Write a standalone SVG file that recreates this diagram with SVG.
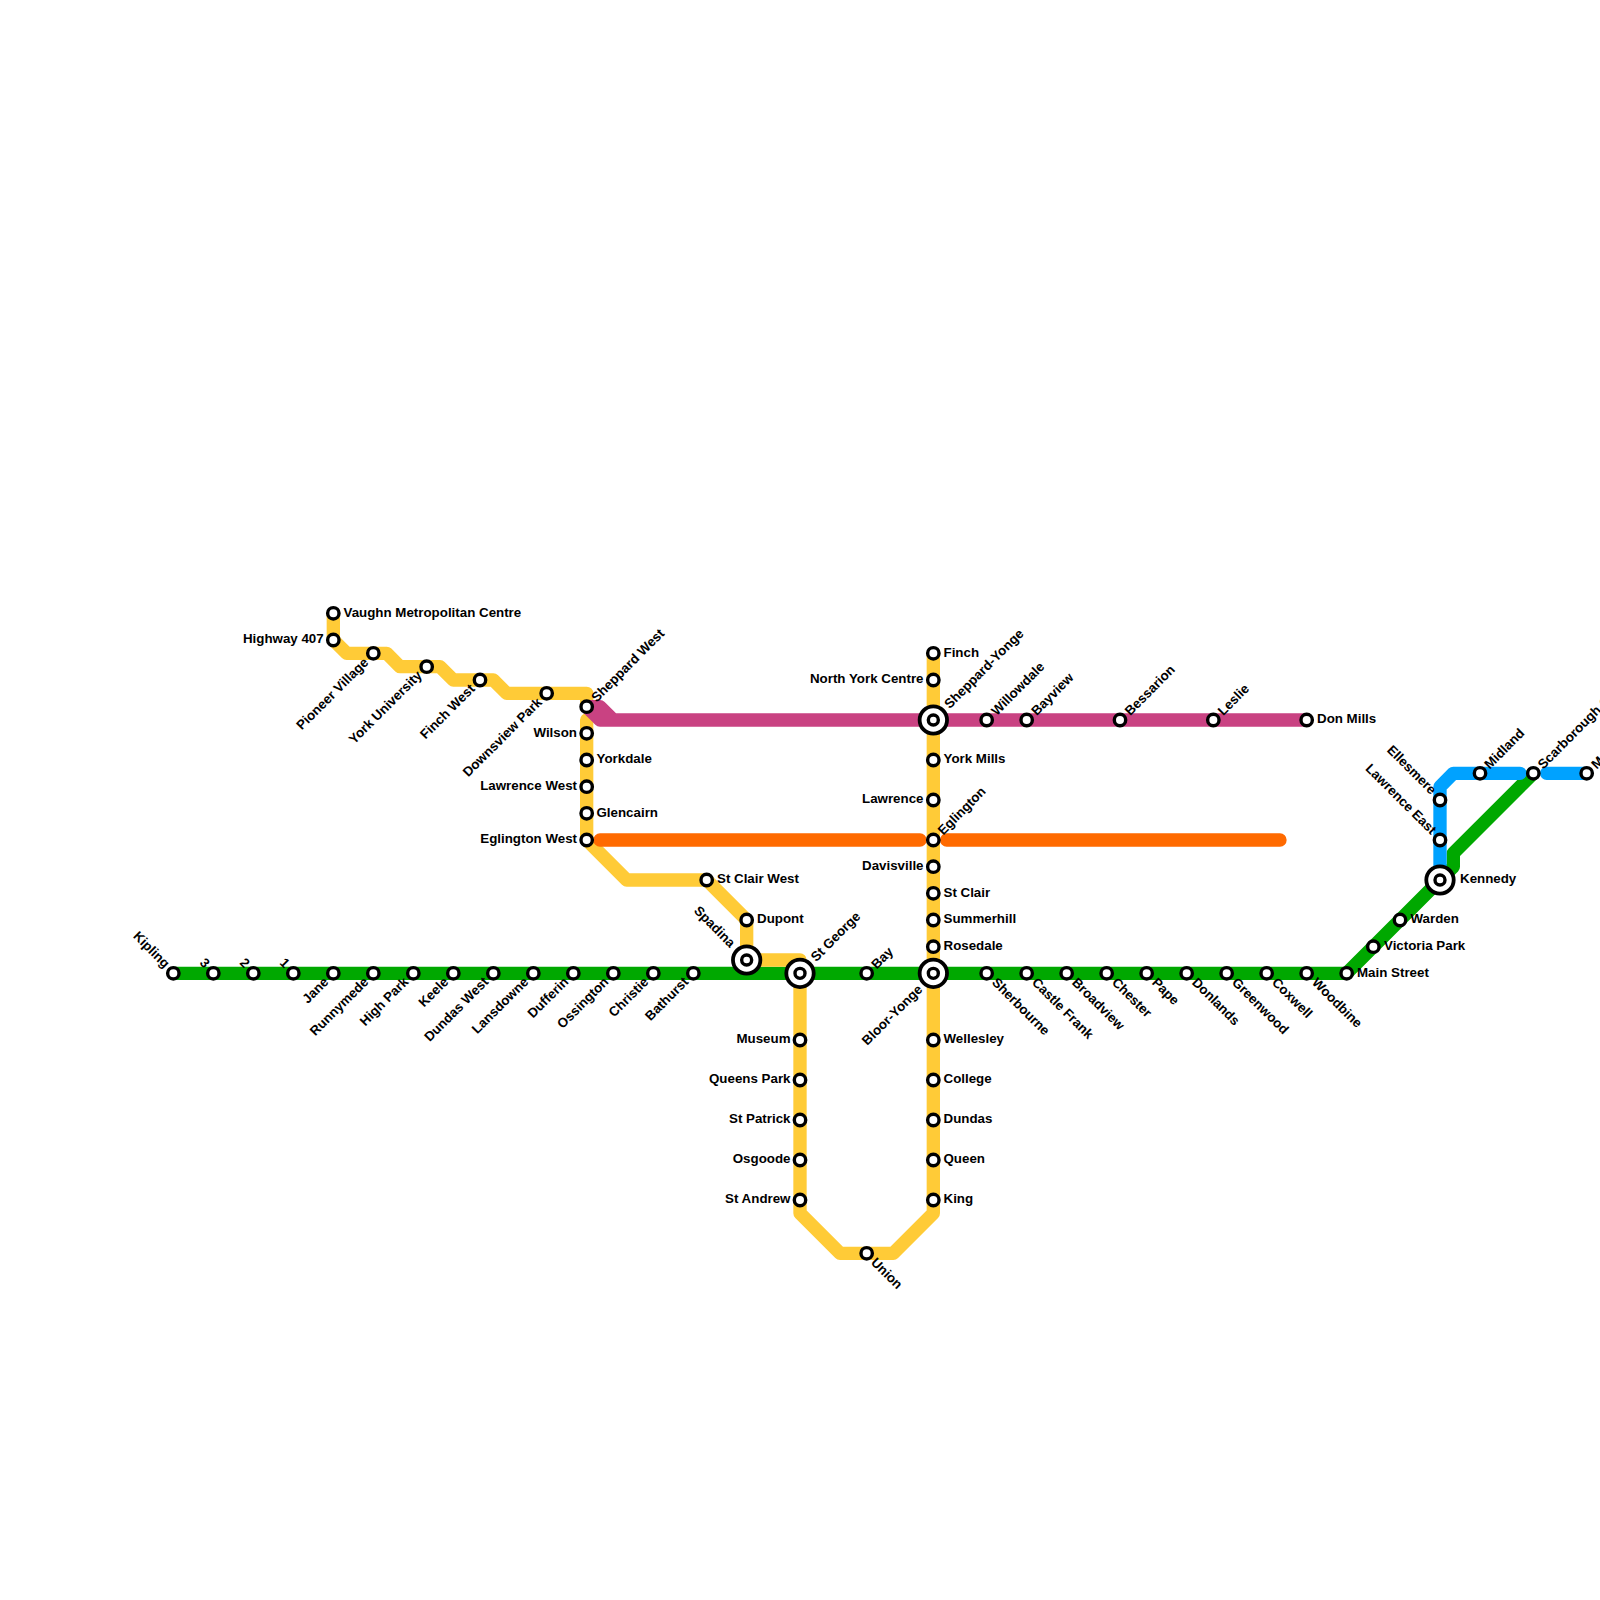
<svg xmlns="http://www.w3.org/2000/svg" width="1600" height="1600" viewBox="0 0 1600 1600">
<style>
text{font-family:"Liberation Sans",Arial,sans-serif;font-weight:bold;font-size:13.33px;fill:#000;dominant-baseline:central}
.e{text-anchor:end}
.l{fill:none;stroke-width:13.33;stroke-linecap:round;stroke-linejoin:round}
.y{stroke:#ffcb37}.g{stroke:#00a800}.m{stroke:#c94282}.o{stroke:#ff6a00}.b{stroke:#00a2ff}
.s{fill:#fff;stroke:#000;stroke-width:3.4}
.r{fill:#fff;stroke:#000;stroke-width:3.8}
.c{fill:#fff;stroke:#000;stroke-width:3.4}
</style>
<defs>
<circle id="st" class="s" r="5.7"/>
<g id="ic"><circle class="r" r="13.7"/><circle class="c" r="5"/></g>
</defs>
<rect width="1600" height="1600" fill="#fff"/>
<g id="connectors">
<path class="l g" d="M173.33 973.33H1346.67L1440 880"/>
<path class="l g" d="M1440 880L1453.33 866.67V853.33L1533.33 773.33"/>
<path class="l y" d="M333.33 613.33V640L346.67 653.33H386.67L400 666.67H440L453.33 680H493.33L506.67 693.33H586.67V706.67"/>
<path class="l y" d="M586.67 720V840L626.67 880H706.67L746.67 920V960H800V973.33V1213.33L840 1253.33H893.33L933.33 1213.33V653.33"/>
<path class="l m" d="M586.67 706.67H600L613.33 720H1306.67M586.67 706.67L600 720H613.33"/>
<path class="l o" d="M600 840H920M946.67 840H1280"/>
<path class="l b" d="M1440 880V786.67L1453.33 773.33H1520M1546.67 773.33H1586.67"/>
</g>
<g id="stations">
<use href="#st" x="173.33" y="973.33"/><use href="#st" x="213.33" y="973.33"/><use href="#st" x="253.33" y="973.33"/><use href="#st" x="293.33" y="973.33"/><use href="#st" x="333.33" y="973.33"/><use href="#st" x="373.33" y="973.33"/><use href="#st" x="413.33" y="973.33"/><use href="#st" x="453.33" y="973.33"/><use href="#st" x="493.33" y="973.33"/><use href="#st" x="533.33" y="973.33"/><use href="#st" x="573.33" y="973.33"/><use href="#st" x="613.33" y="973.33"/><use href="#st" x="653.33" y="973.33"/><use href="#st" x="693.33" y="973.33"/><use href="#st" x="866.67" y="973.33"/><use href="#st" x="986.67" y="973.33"/><use href="#st" x="1026.67" y="973.33"/><use href="#st" x="1066.67" y="973.33"/><use href="#st" x="1106.67" y="973.33"/><use href="#st" x="1146.67" y="973.33"/><use href="#st" x="1186.67" y="973.33"/><use href="#st" x="1226.67" y="973.33"/><use href="#st" x="1266.67" y="973.33"/><use href="#st" x="1306.67" y="973.33"/><use href="#st" x="1346.67" y="973.33"/><use href="#st" x="1373.33" y="946.67"/><use href="#st" x="1400" y="920"/>
<use href="#st" x="333.33" y="613.33"/><use href="#st" x="333.33" y="640"/><use href="#st" x="373.33" y="653.33"/><use href="#st" x="426.67" y="666.67"/><use href="#st" x="480" y="680"/><use href="#st" x="546.67" y="693.33"/><use href="#st" x="586.67" y="706.67"/><use href="#st" x="586.67" y="733.33"/><use href="#st" x="586.67" y="760"/><use href="#st" x="586.67" y="786.67"/><use href="#st" x="586.67" y="813.33"/><use href="#st" x="586.67" y="840"/><use href="#st" x="706.67" y="880"/><use href="#st" x="746.67" y="920"/>
<use href="#st" x="800" y="1040"/><use href="#st" x="800" y="1080"/><use href="#st" x="800" y="1120"/><use href="#st" x="800" y="1160"/><use href="#st" x="800" y="1200"/><use href="#st" x="866.67" y="1253.33"/>
<use href="#st" x="933.33" y="1200"/><use href="#st" x="933.33" y="1160"/><use href="#st" x="933.33" y="1120"/><use href="#st" x="933.33" y="1080"/><use href="#st" x="933.33" y="1040"/><use href="#st" x="933.33" y="946.67"/><use href="#st" x="933.33" y="920"/><use href="#st" x="933.33" y="893.33"/><use href="#st" x="933.33" y="866.67"/><use href="#st" x="933.33" y="840"/><use href="#st" x="933.33" y="800"/><use href="#st" x="933.33" y="760"/><use href="#st" x="933.33" y="680"/><use href="#st" x="933.33" y="653.33"/>
<use href="#st" x="986.67" y="720"/><use href="#st" x="1026.67" y="720"/><use href="#st" x="1120" y="720"/><use href="#st" x="1213.33" y="720"/><use href="#st" x="1306.67" y="720"/>
<use href="#st" x="1440" y="800"/><use href="#st" x="1440" y="840"/><use href="#st" x="1480" y="773.33"/><use href="#st" x="1533.33" y="773.33"/><use href="#st" x="1586.67" y="773.33"/>
<use href="#ic" x="746.67" y="960"/><use href="#ic" x="800" y="973.33"/><use href="#ic" x="933.33" y="720"/><use href="#ic" x="933.33" y="973.33"/><use href="#ic" x="1440" y="880"/>
</g>
<g id="labels">
<text x="343.5" y="612">Vaughn Metropolitan Centre</text>
<text class="e" x="323.7" y="638.5">Highway 407</text>
<text class="e" transform="translate(366 660) rotate(-45)">Pioneer Village</text>
<text class="e" transform="translate(419.5 673) rotate(-45)">York University</text>
<text class="e" transform="translate(472.5 686.5) rotate(-45)">Finch West</text>
<text class="e" transform="translate(539.5 700) rotate(-45)">Downsview Park</text>
<text transform="translate(593.5 699.5) rotate(-45)">Sheppard West</text>
<text class="e" x="577" y="732">Wilson</text>
<text x="596.5" y="758.5">Yorkdale</text>
<text class="e" x="577" y="785">Lawrence West</text>
<text x="596.5" y="812">Glencairn</text>
<text class="e" x="577" y="838.5">Eglington West</text>
<text x="717" y="878.5">St Clair West</text>
<text x="757" y="918.5">Dupont</text>
<text class="e" transform="translate(733 945) rotate(45)">Spadina</text>
<text transform="translate(813 959) rotate(-45)">St George</text>
<text transform="translate(873.5 966.5) rotate(-45)">Bay</text>
<text class="e" x="790.5" y="1038.5">Museum</text>
<text class="e" x="790.5" y="1078.5">Queens Park</text>
<text class="e" x="790.5" y="1118.5">St Patrick</text>
<text class="e" x="790.5" y="1158.5">Osgoode</text>
<text class="e" x="790.5" y="1198.5">St Andrew</text>
<text transform="translate(873.5 1260) rotate(45)">Union</text>
<text x="943.5" y="652">Finch</text>
<text class="e" x="923.5" y="678.5">North York Centre</text>
<text transform="translate(946.5 706) rotate(-45)">Sheppard-Yonge</text>
<text x="943.5" y="758.5">York Mills</text>
<text class="e" x="923.5" y="798.5">Lawrence</text>
<text transform="translate(940 832.5) rotate(-45)">Eglington</text>
<text class="e" x="923.5" y="865">Davisville</text>
<text x="943.5" y="892">St Clair</text>
<text x="943.5" y="918.5">Summerhill</text>
<text x="943.5" y="945">Rosedale</text>
<text class="e" transform="translate(920 987) rotate(-45)">Bloor-Yonge</text>
<text x="943.5" y="1038.5">Wellesley</text>
<text x="943.5" y="1078.5">College</text>
<text x="943.5" y="1118.5">Dundas</text>
<text x="943.5" y="1158.5">Queen</text>
<text x="943.5" y="1198.5">King</text>
<text transform="translate(993.5 713) rotate(-45)">Willowdale</text>
<text transform="translate(1033.5 713) rotate(-45)">Bayview</text>
<text transform="translate(1127 713) rotate(-45)">Bessarion</text>
<text transform="translate(1220 713) rotate(-45)">Leslie</text>
<text x="1317" y="718.5">Don Mills</text>
<text class="e" transform="translate(167.5 965.5) rotate(45)">Kipling</text>
<text class="e" transform="translate(207.5 965.5) rotate(45)">3</text>
<text class="e" transform="translate(247.5 965.5) rotate(45)">2</text>
<text class="e" transform="translate(287.5 965.5) rotate(45)">1</text>
<text class="e" transform="translate(326 979.5) rotate(-45)">Jane</text>
<text class="e" transform="translate(366 979.5) rotate(-45)">Runnymede</text>
<text class="e" transform="translate(406 979.5) rotate(-45)">High Park</text>
<text class="e" transform="translate(446 979.5) rotate(-45)">Keele</text>
<text class="e" transform="translate(486 979.5) rotate(-45)">Dundas West</text>
<text class="e" transform="translate(526 979.5) rotate(-45)">Lansdowne</text>
<text class="e" transform="translate(566 979.5) rotate(-45)">Dufferin</text>
<text class="e" transform="translate(606 979.5) rotate(-45)">Ossington</text>
<text class="e" transform="translate(646 979.5) rotate(-45)">Christie</text>
<text class="e" transform="translate(686 979.5) rotate(-45)">Bathurst</text>
<text transform="translate(994.5 980) rotate(45)">Sherbourne</text>
<text transform="translate(1034.5 980) rotate(45)">Castle Frank</text>
<text transform="translate(1074.5 980) rotate(45)">Broadview</text>
<text transform="translate(1114.5 980) rotate(45)">Chester</text>
<text transform="translate(1154.5 980) rotate(45)">Pape</text>
<text transform="translate(1194.5 980) rotate(45)">Donlands</text>
<text transform="translate(1234.5 980) rotate(45)">Greenwood</text>
<text transform="translate(1274.5 980) rotate(45)">Coxwell</text>
<text transform="translate(1314.5 980) rotate(45)">Woodbine</text>
<text x="1357" y="972">Main Street</text>
<text x="1384" y="945">Victoria Park</text>
<text x="1410.5" y="918.5">Warden</text>
<text x="1460" y="878.5">Kennedy</text>
<text class="e" transform="translate(1434 832) rotate(45)">Lawrence East</text>
<text class="e" transform="translate(1434 792) rotate(45)">Ellesmere</text>
<text transform="translate(1486.5 766.5) rotate(-45)">Midland</text>
<text transform="translate(1540 766.5) rotate(-45)">Scarborough Centre</text>
<text transform="translate(1593.5 766.5) rotate(-45)">McCowan</text>
</g>
</svg>
